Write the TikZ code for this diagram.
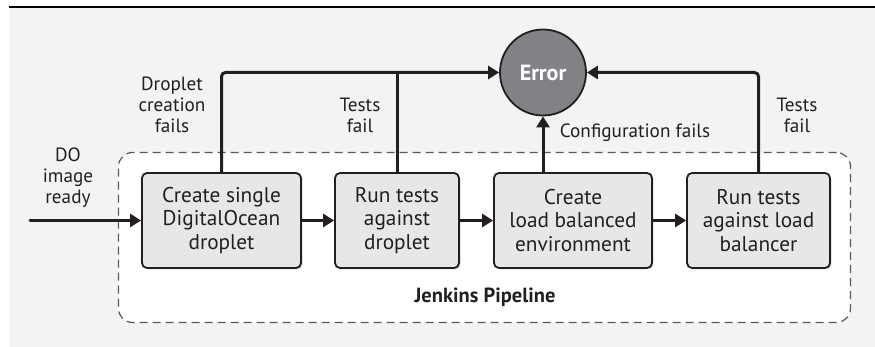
\documentclass[tikz,border=0pt]{standalone}
\usepackage{fontspec}
\setmainfont{PT Sans}
\usetikzlibrary{arrows.meta,shadows}
\definecolor{bg}{HTML}{F2F3F3}
\definecolor{boxfill}{HTML}{E6E7E8}
\definecolor{errfill}{HTML}{808285}
\definecolor{dashcol}{HTML}{58595B}
\definecolor{ink}{HTML}{231F20}
\begin{document}
\begin{tikzpicture}[x=1pt,y=-1pt,
  stepbox/.style={draw=ink, line width=1.8pt, fill=boxfill, rounded corners=5pt,
    align=center, inner sep=0pt, text=ink, minimum height=95pt,
    font=\fontsize{21.3}{23.5}\selectfont,
    drop shadow={shadow xshift=1.5pt, shadow yshift=-1.5pt, opacity=0.3}},
  lbl/.style={align=center, inner sep=0pt, text=ink, font=\fontsize{19.2}{21}\selectfont},
  conn/.style={draw=ink, line width=3pt, -{Triangle[length=11pt,width=13pt]}, rounded corners=4pt},
  plain/.style={draw=ink, line width=3pt},
]
\useasboundingbox (0,0) rectangle (875,347);
\fill[bg] (9,8) rectangle (875,347);
\fill[black] (9,5.8) rectangle (875,8.2);

\node[draw=dashcol, dash pattern=on 8pt off 5pt, line width=1.2pt, fill=white,
  rounded corners=14pt, minimum width=732pt, minimum height=170pt, inner sep=0pt]
  (pipe) at (484.5,237.5) {};
\node[lbl, font=\fontsize{20.5}{21}\selectfont\bfseries] (pipelbl) at (485,297) {Jenkins Pipeline};

\node[stepbox, minimum width=159pt] (b1) at (221.5,220.5) {Create single\\DigitalOcean\\droplet};
\node[stepbox, minimum width=124pt] (b2) at (397,220.5) {Run tests\\against\\droplet};
\node[stepbox, minimum width=158pt] (b3) at (573,220.5) {Create\\load balanced\\environment};
\node[stepbox, minimum width=143pt] (b4) at (758.5,220.5) {Run tests\\against load\\balancer};

\node[circle, draw=ink, line width=1.8pt, fill=errfill, minimum size=86pt, inner sep=0pt,
  text=white, font=\fontsize{22}{24}\selectfont\bfseries] (err) at (543,72.5) {Error};

\node[lbl] (doimg) at (68,178) {DO\\image\\ready};
\node[lbl] (dropfail) at (172,105) {Droplet\\creation\\fails};
\node[lbl] (t1fail) at (360,115.5) {Tests\\fail};
\node[lbl] (t2fail) at (797,115.5) {Tests\\fail};
\node[lbl] (cfgfail) at (635,133) {Configuration fails};

\coordinate (in) at (30,220.5);
\draw[conn, line cap=round] (in) -- (b1.west);
\draw[conn] (b1) -- (b2);
\draw[conn] (b2) -- (b3);
\draw[conn] (b3) -- (b4);
\draw[conn] (b1.north) |- (err.west);
\draw[plain] (b2.north) -- (b2.north |- err.west);
\draw[conn] (b4.north) |- (err.east);
\coordinate (cfgstart) at (b3.north -| err.south);
\draw[conn] (cfgstart) -- (err.south);
\end{tikzpicture}
\end{document}
